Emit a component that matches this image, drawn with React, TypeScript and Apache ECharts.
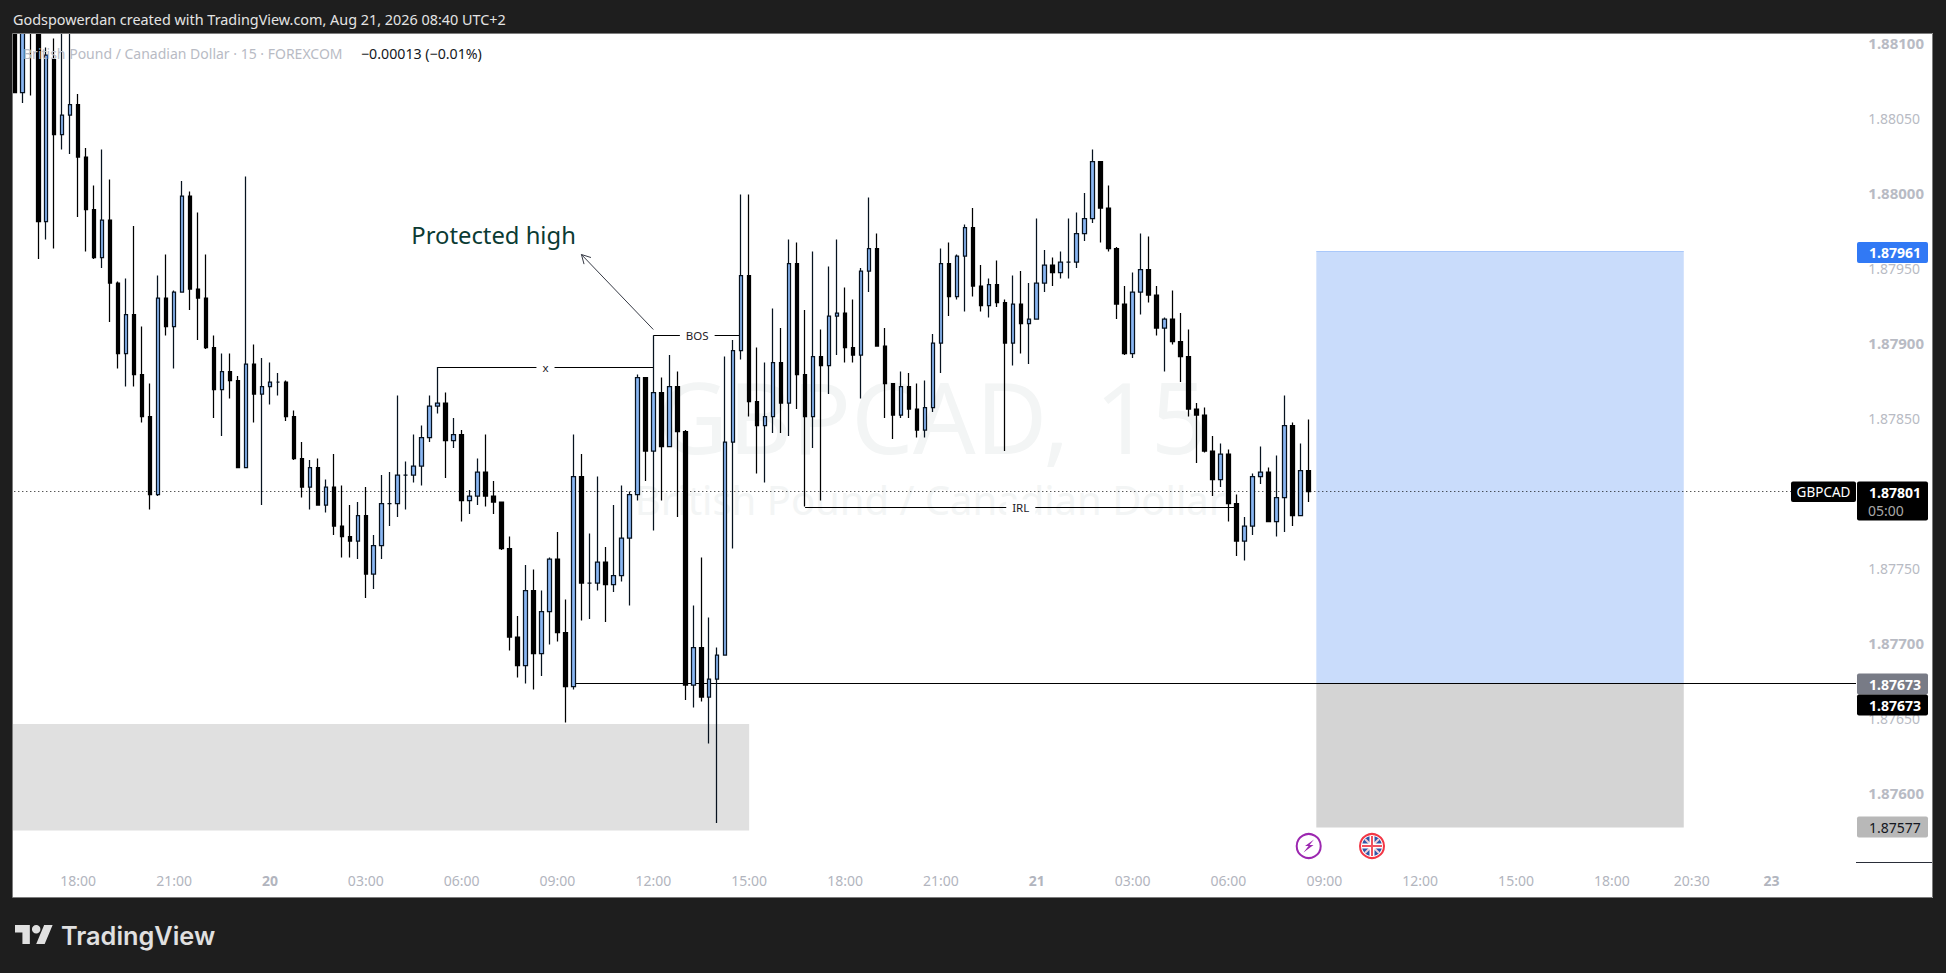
import React, { useEffect, useRef } from "react";
import * as echarts from "echarts";

// ---- Candles (15 minute bars, left to right) ----
const opens = [
1.88112,1.88067,1.88114,1.88109,1.87981,1.88089,1.88039,1.88052,1.88059,1.88024,
1.87989,1.87957,1.87982,1.87940,1.87893,1.87919,1.87879,1.87851,1.87799,1.87930,
1.87911,1.87934,1.87998,1.87936,1.87930,1.87897,1.87869,1.87881,1.87875,1.87817,
1.87886,1.87866,1.87871,1.87874,1.87874,1.87851,1.87823,1.87804,1.87817,1.87792,
1.87804,1.87778,1.87771,1.87768,1.87785,1.87746,1.87765,1.87793,1.87793,1.87812,
1.87812,1.87818,1.87837,1.87858,1.87860,1.87835,1.87839,1.87795,1.87798,1.87814,
1.87798,1.87794,1.87763,1.87704,1.87685,1.87735,1.87693,1.87721,1.87756,1.87707,
1.87671,1.87811,1.87740,1.87740,1.87754,1.87739,1.87745,1.87770,1.87799,1.87877,
1.87828,1.87867,1.87831,1.87871,1.87841,1.87672,1.87697,1.87664,1.87676,1.87692,
1.87834,1.87895,1.87945,1.87861,1.87845,1.87851,1.87887,1.87860,1.87953,1.87879,
1.87851,1.87891,1.87885,1.87918,1.87920,1.87897,1.87892,1.87948,1.87963,1.87898,
1.87873,1.87852,1.87871,1.87856,1.87842,1.87857,1.87900,1.87953,1.87931,1.87958,
1.87977,1.87938,1.87925,1.87939,1.87927,1.87900,1.87926,1.87913,1.87916,1.87940,
1.87952,1.87947,1.87954,1.87954,1.87973,1.87983,1.88021,1.87990,1.87963,1.87926,
1.87893,1.87934,1.87949,1.87932,1.87910,1.87916,1.87901,1.87891,1.87856,1.87852,
1.87828,1.87809,1.87826,1.87793,1.87768,1.87778,1.87811,1.87814,1.87781,1.87797,
1.87845,1.87785,1.87815];
const closes = [
1.88067,1.88110,1.88109,1.87981,1.88092,1.88039,1.88052,1.88059,1.88024,1.87989,
1.87957,1.87982,1.87940,1.87893,1.87919,1.87879,1.87851,1.87799,1.87930,1.87911,
1.87934,1.87998,1.87936,1.87930,1.87897,1.87869,1.87881,1.87875,1.87817,1.87886,
1.87866,1.87871,1.87874,1.87874,1.87851,1.87823,1.87804,1.87817,1.87792,1.87804,
1.87778,1.87771,1.87768,1.87785,1.87746,1.87765,1.87793,1.87793,1.87812,1.87812,
1.87818,1.87837,1.87858,1.87860,1.87835,1.87839,1.87795,1.87798,1.87814,1.87798,
1.87794,1.87763,1.87704,1.87685,1.87735,1.87693,1.87721,1.87756,1.87707,1.87671,
1.87811,1.87740,1.87740,1.87754,1.87739,1.87745,1.87770,1.87799,1.87877,1.87828,
1.87867,1.87831,1.87871,1.87841,1.87672,1.87697,1.87664,1.87676,1.87692,1.87834,
1.87895,1.87945,1.87861,1.87845,1.87851,1.87887,1.87860,1.87953,1.87879,1.87851,
1.87891,1.87885,1.87918,1.87920,1.87897,1.87892,1.87948,1.87963,1.87898,1.87873,
1.87852,1.87871,1.87856,1.87842,1.87857,1.87900,1.87953,1.87931,1.87958,1.87977,
1.87938,1.87925,1.87939,1.87927,1.87900,1.87926,1.87913,1.87916,1.87940,1.87952,
1.87947,1.87954,1.87954,1.87973,1.87983,1.88021,1.87990,1.87963,1.87926,1.87893,
1.87934,1.87949,1.87932,1.87910,1.87916,1.87901,1.87891,1.87856,1.87852,1.87828,
1.87809,1.87826,1.87793,1.87768,1.87778,1.87811,1.87814,1.87781,1.87797,1.87845,
1.87785,1.87815,1.87801];
const lows = [
1.88067,1.88060,1.88065,1.87956,1.87969,1.87963,1.88029,1.88026,1.87984,1.87961,
1.87956,1.87950,1.87914,1.87883,1.87871,1.87871,1.87847,1.87789,1.87798,1.87905,
1.87883,1.87934,1.87922,1.87902,1.87896,1.87850,1.87838,1.87863,1.87817,1.87817,
1.87847,1.87792,1.87859,1.87865,1.87848,1.87822,1.87797,1.87789,1.87792,1.87787,
1.87772,1.87757,1.87757,1.87756,1.87730,1.87736,1.87756,1.87778,1.87784,1.87789,
1.87807,1.87805,1.87834,1.87853,1.87810,1.87830,1.87781,1.87786,1.87792,1.87791,
1.87786,1.87762,1.87695,1.87677,1.87673,1.87669,1.87678,1.87699,1.87701,1.87647,
1.87669,1.87715,1.87716,1.87735,1.87714,1.87734,1.87741,1.87725,1.87795,1.87808,
1.87775,1.87795,1.87831,1.87784,1.87662,1.87657,1.87661,1.87633,1.87580,1.87692,
1.87763,1.87889,1.87851,1.87813,1.87807,1.87840,1.87840,1.87838,1.87856,1.87791,
1.87830,1.87795,1.87866,1.87892,1.87887,1.87887,1.87863,1.87934,1.87898,1.87850,
1.87836,1.87850,1.87850,1.87837,1.87837,1.87854,1.87880,1.87918,1.87929,1.87921,
1.87931,1.87921,1.87917,1.87924,1.87828,1.87885,1.87893,1.87886,1.87916,1.87934,
1.87938,1.87943,1.87943,1.87950,1.87968,1.87980,1.87967,1.87961,1.87916,1.87892,
1.87890,1.87919,1.87927,1.87905,1.87881,1.87899,1.87874,1.87851,1.87820,1.87827,
1.87798,1.87804,1.87781,1.87758,1.87755,1.87772,1.87806,1.87781,1.87771,1.87774,
1.87778,1.87785,1.87794];
const highs = [
1.88115,1.88114,1.88120,1.88114,1.88097,1.88103,1.88114,1.88115,1.88066,1.88030,
1.88005,1.88029,1.88009,1.87941,1.87943,1.87978,1.87911,1.87873,1.87945,1.87959,
1.87935,1.88008,1.88001,1.87987,1.87959,1.87905,1.87893,1.87893,1.87878,1.88011,
1.87899,1.87890,1.87887,1.87880,1.87875,1.87855,1.87834,1.87822,1.87823,1.87809,
1.87826,1.87805,1.87792,1.87794,1.87804,1.87772,1.87812,1.87814,1.87865,1.87821,
1.87839,1.87845,1.87865,1.87884,1.87867,1.87850,1.87842,1.87802,1.87823,1.87839,
1.87808,1.87794,1.87771,1.87718,1.87752,1.87749,1.87735,1.87757,1.87774,1.87729,
1.87839,1.87826,1.87773,1.87811,1.87764,1.87792,1.87805,1.87801,1.87879,1.87877,
1.87905,1.87877,1.87892,1.87881,1.87842,1.87725,1.87757,1.87717,1.87697,1.87891,
1.87902,1.87999,1.87999,1.87897,1.87887,1.87923,1.87910,1.87969,1.87967,1.87922,
1.87961,1.87909,1.87951,1.87969,1.87937,1.87929,1.87950,1.87997,1.87973,1.87910,
1.87873,1.87881,1.87880,1.87873,1.87875,1.87906,1.87963,1.87967,1.87959,1.87979,
1.87990,1.87952,1.87943,1.87955,1.87929,1.87945,1.87948,1.87940,1.87983,1.87962,
1.87957,1.87961,1.87983,1.87987,1.88000,1.88029,1.88021,1.88005,1.87964,1.87938,
1.87947,1.87973,1.87971,1.87938,1.87917,1.87935,1.87920,1.87909,1.87860,1.87857,
1.87838,1.87833,1.87829,1.87799,1.87784,1.87813,1.87831,1.87817,1.87825,1.87865,
1.87847,1.87833,1.87849];

// ---- Axes ----
const slotCount = 231;
const priceMin = 1.87554;
const priceMax = 1.88106;
const priceTicks = [1.876, 1.8765, 1.877, 1.8775, 1.878, 1.8785, 1.879, 1.8795, 1.88, 1.8805, 1.881];
const strongTicks = [1.876, 1.877, 1.879, 1.88, 1.881];
const timeTickSlots = [8, 20, 32, 44, 56, 68, 80, 92, 104, 116, 128, 140, 152, 164, 176, 188, 200, 210, 220];
const timeTickLabels = ["18:00", "21:00", "20", "03:00", "06:00", "09:00", "12:00", "15:00", "18:00", "21:00", "21", "03:00", "06:00", "09:00", "12:00", "15:00", "18:00", "20:30", "23"];
const dayLabels = ["20", "21", "23"];

// ---- Drawings: [slot, price, slot, price] ----
const targetZone = [163, 1.87961, 209, 1.87673];
const stopZone = [163, 1.87673, 209, 1.87577];
const demandZone = [-1, 1.87646, 92, 1.87575];
const xLine = [53, 1.87884, 80, 1.87884];
const bosLine = [80, 1.87905, 91, 1.87905];
const irlLine = [99, 1.87791, 153, 1.87791];
const entryLine = [70, 1.87673, 230, 1.87673];
const arrowLine = [80, 1.87909, 71, 1.87959];
const lastPrice = 1.87801;
const noteAnchor = [60, 1.87972];

const UI = "'Noto Sans', sans-serif";

echarts.graphic.registerShape(
  "tvLogo",
  echarts.graphic.extendPath("M14 22H7V11H0V4h14v18zM28 22h-8l7.5-18h8L28 22zM24 8a4 4 0 1 1-8 0 4 4 0 0 1 8 0z", {})
);

function txt(x: number, y: number, text: string, fill: string, font: string, align = "left", z = 12, extra: any = {}) {
  return {
    type: "text", x, y, z, silent: true,
    style: { text, fill, font, align, verticalAlign: "middle", textAlign: align, textVerticalAlign: "middle", ...extra },
  };
}
function box(x: number, y: number, w: number, h: number, fill: string, z = 11, r = 0) {
  return { type: "rect", z, silent: true, shape: { x, y, width: w, height: h, r }, style: { fill } };
}

function App() {
  const ref = useRef<HTMLDivElement>(null);
  useEffect(() => {
    document.body.style.margin = "0";
    const chart = echarts.init(ref.current!, null, { renderer: "svg" });

    const zoneRows = [targetZone, stopZone, demandZone];
    const zoneFill = ["#c9dcfb", "#d4d4d4", "#e0e0e0"];
    const zoneTopEdge = ["#a9c8fa", "", ""];

    const lineRows = [xLine, bosLine, irlLine, entryLine];
    const lineLabel = ["x", "BOS", "IRL", ""];

    const snap = (v: number) => Math.round(v) + 0.5;

    chart.setOption({
      animation: false,
      backgroundColor: "#ffffff",
      grid: { left: 10.3, right: 90.5, top: 34, bottom: 111, containLabel: false },
      xAxis: {
        type: "category",
        data: Array.from({ length: slotCount }, (_, i) => {
          const k = timeTickSlots.indexOf(i);
          return k >= 0 ? timeTickLabels[k] : "";
        }),
        boundaryGap: true,
        axisLine: { show: false },
        axisTick: { show: false },
        splitLine: { show: false },
        axisLabel: {
          interval: (i: number) => timeTickSlots.includes(i),
          margin: 11,
          hideOverlap: false,
          formatter: (v: string) => (dayLabels.includes(v) ? `{d|${v}}` : `{t|${v}}`),
          rich: {
            t: { color: "#b2b5be", fontFamily: UI, fontSize: 14 },
            d: { color: "#b2b5be", fontFamily: UI, fontSize: 14, fontWeight: "bold" },
          },
        },
      },
      yAxis: {
        type: "value",
        position: "right",
        min: priceMin,
        max: priceMax,
        axisLine: { show: false },
        axisTick: { show: false },
        splitLine: { show: false },
        axisLabel: {
          customValues: priceTicks,
          margin: 12.8,
          formatter: (v: number) => {
            const s = v.toFixed(5);
            return strongTicks.includes(Number(v.toFixed(4))) ? `{b|${s}}` : `{n|${s}}`;
          },
          rich: {
            b: { color: "#b8bbc4", fontFamily: UI, fontSize: 15, fontWeight: "bold" },
            n: { color: "#b8bbc4", fontFamily: UI, fontSize: 14 },
          },
        },
      },
      series: [
        {
          type: "custom",
          name: "zones",
          z: 1,
          data: zoneRows,
          encode: { x: [0, 2], y: [1, 3] },
          renderItem: (params: any, api: any) => {
            const i = params.dataIndex;
            const a = api.coord([api.value(0), api.value(1)]);
            const b = api.coord([api.value(2), api.value(3)]);
            const left = api.value(0) < 0 ? params.coordSys.x : a[0];
            const children: any[] = [
              {
                type: "rect",
                shape: { x: left, y: a[1], width: b[0] - left, height: b[1] - a[1] },
                style: { fill: zoneFill[i] },
              },
            ];
            if (zoneTopEdge[i]) {
              children.push({
                type: "line",
                shape: { x1: left, y1: a[1], x2: b[0], y2: a[1] },
                style: { stroke: zoneTopEdge[i], lineWidth: 1 },
              });
            }
            return { type: "group", children };
          },
        },
        {
          type: "custom",
          name: "lines",
          z: 1,
          data: lineRows,
          encode: { x: [0, 2], y: [1, 3] },
          renderItem: (params: any, api: any) => {
            const i = params.dataIndex;
            const a = api.coord([api.value(0), api.value(1)]);
            const b = api.coord([api.value(2), api.value(3)]);
            const y = snap(a[1]);
            const x2 = lineLabel[i] === "" ? 1856 : b[0];
            const children: any[] = [
              { type: "line", shape: { x1: a[0], y1: y, x2, y2: y }, style: { stroke: "#000000", lineWidth: 1 } },
            ];
            if (lineLabel[i]) {
              children.push({
                type: "text",
                style: {
                  x: (a[0] + b[0]) / 2,
                  y: y,
                  text: lineLabel[i],
                  align: "center",
                  verticalAlign: "middle",
                  fill: "#1f2229",
                  font: `11.5px ${UI}`,
                  backgroundColor: "#ffffff",
                  padding: [2, 6],
                },
              });
            }
            return { type: "group", children };
          },
        },
        {
          type: "custom",
          name: "arrow",
          z: 1,
          data: [arrowLine],
          encode: { x: [0, 2], y: [1, 3] },
          renderItem: (_params: any, api: any) => {
            const a = api.coord([api.value(0), api.value(1)]);
            const b = api.coord([api.value(2), api.value(3)]);
            const ang = Math.atan2(b[1] - a[1], b[0] - a[0]);
            const len = 10;
            const p1 = [b[0] - len * Math.cos(ang - 0.5), b[1] - len * Math.sin(ang - 0.5)];
            const p2 = [b[0] - len * Math.cos(ang + 0.5), b[1] - len * Math.sin(ang + 0.5)];
            const style = { stroke: "#363a45", lineWidth: 1, fill: "none" };
            return {
              type: "group",
              children: [
                { type: "line", shape: { x1: a[0], y1: a[1], x2: b[0], y2: b[1] }, style },
                { type: "polyline", shape: { points: [p1, b, p2] }, style },
              ],
            };
          },
        },
        {
          type: "custom",
          name: "lastPrice",
          z: 1,
          data: [[0, lastPrice]],
          encode: { x: 0, y: 1 },
          renderItem: (params: any, api: any) => {
            const c = api.coord([0, api.value(1)]);
            const y = snap(c[1] - 0.5);
            return {
              type: "line",
              shape: { x1: params.coordSys.x, y1: y, x2: 1791, y2: y },
              style: { stroke: "#111111", lineWidth: 1, lineDash: [1, 3] },
            };
          },
        },
        {
          type: "custom",
          name: "note",
          z: 3,
          data: [noteAnchor],
          encode: { x: 0, y: 1 },
          renderItem: (_params: any, api: any) => {
            const c = api.coord([api.value(0), api.value(1)]);
            return {
              type: "text",
              style: {
                x: c[0],
                y: c[1],
                text: "Protected high",
                align: "center",
                verticalAlign: "middle",
                fill: "#0b3b33",
                font: `23.8px ${UI}`,
              },
            };
          },
        },
        {
          type: "candlestick",
          name: "GBPCAD",
          z: 2,
          barWidth: 4,
          data: opens.map((o, i) => [o, closes[i], lows[i], highs[i]]),
          itemStyle: {
            color: "#8ab6f3",
            color0: "#000000",
            borderColor: "#07121f",
            borderColor0: "#000000",
            borderWidth: 1.25,
          },
        },
      ],
      graphic: {
        elements: [
          // Watermark
          txt(932, 416, "GBPCAD, 15", "#f3f5f5", `98px ${UI}`, "center", 0),
          txt(930, 499, "British Pound / Canadian Dollar", "#f3f5f5", `40px ${UI}`, "center", 0),
          // Pane frame
          box(0, 0, 1946, 33, "#1e1e1e"),
          box(0, 898, 1946, 75, "#1e1e1e"),
          box(0, 0, 13, 973, "#1e1e1e"),
          box(1933, 0, 13, 973, "#1e1e1e"),
          { type: "rect", z: 11, silent: true, shape: { x: 12.5, y: 33.5, width: 1920, height: 864 }, style: { fill: "none", stroke: "#7d7d7d", lineWidth: 1 } },
          // Header, legend
          txt(13, 19, "Godspowerdan created with TradingView.com, Aug 21, 2026 08:40 UTC+2", "#e4e4e4", `14.4px ${UI}`),
          txt(23, 53, "British Pound / Canadian Dollar · 15 · FOREXCOM", "#b8bbc4", `14px ${UI}`),
          txt(361, 53, "−0.00013 (−0.01%)", "#131722", `14.2px ${UI}`),
          // Price tags
          box(1857, 242, 71, 21, "#3179f5", 11, 2),
          txt(1869, 252.5, "1.87961", "#ffffff", `bold 14px ${UI}`),
          box(1791, 481.5, 65, 20.5, "#000000", 11, 2),
          txt(1823.5, 492, "GBPCAD", "#ffffff", `13.5px ${UI}`, "center"),
          box(1857, 481.5, 71, 39, "#000000", 11, 2),
          txt(1869, 492, "1.87801", "#ffffff", `bold 14px ${UI}`),
          txt(1868, 510, "05:00", "#a8a8a8", `14px ${UI}`),
          box(1857, 673.5, 71, 21, "#787b86", 11, 2),
          txt(1869, 684, "1.87673", "#ffffff", `bold 14px ${UI}`),
          box(1857, 694.5, 71, 21, "#000000", 11, 2),
          txt(1869, 705, "1.87673", "#ffffff", `bold 14px ${UI}`),
          box(1857, 816.5, 71, 21, "#b8b8b8", 11, 2),
          txt(1869, 827, "1.87577", "#131722", `14px ${UI}`),
          { type: "line", z: 11, silent: true, shape: { x1: 1856, y1: 862.5, x2: 1932, y2: 862.5 }, style: { stroke: "#2a2e39", lineWidth: 1 } },
          // Event: lightning
          { type: "circle", z: 11, silent: true, shape: { cx: 1308.7, cy: 846, r: 12 }, style: { fill: "#ffffff", stroke: "#9c27b0", lineWidth: 2 } },
          { type: "polygon", z: 12, silent: true, shape: { points: [[1314, 839.5], [1305, 846], [1308.5, 846], [1303.5, 852.5], [1313.5, 845], [1309.5, 845]] }, style: { fill: "#9c27b0" } },
          // Event: UK flag
          { type: "circle", z: 11, silent: true, shape: { cx: 1372, cy: 846, r: 12 }, style: { fill: "#ffffff", stroke: "#f23645", lineWidth: 2 } },
          { type: "circle", z: 12, silent: true, shape: { cx: 1372, cy: 846, r: 10 }, style: { fill: "#2f55a8" } },
          { type: "line", z: 12, silent: true, shape: { x1: 1365, y1: 839, x2: 1379, y2: 853 }, style: { stroke: "#f3d0d6", lineWidth: 2 } },
          { type: "line", z: 12, silent: true, shape: { x1: 1379, y1: 839, x2: 1365, y2: 853 }, style: { stroke: "#f3d0d6", lineWidth: 2 } },
          { type: "rect", z: 12, silent: true, shape: { x: 1362, y: 843.5, width: 20, height: 5 }, style: { fill: "#ffffff" } },
          { type: "rect", z: 12, silent: true, shape: { x: 1369.5, y: 836, width: 5, height: 20 }, style: { fill: "#ffffff" } },
          { type: "rect", z: 12, silent: true, shape: { x: 1362, y: 845, width: 20, height: 2 }, style: { fill: "#f0525f" } },
          { type: "rect", z: 12, silent: true, shape: { x: 1371, y: 836, width: 2, height: 20 }, style: { fill: "#f0525f" } },
          // Logo
          { type: "tvLogo", z: 12, silent: true, x: 15, y: 920.8, scaleX: 1.06, scaleY: 1.06, style: { fill: "#e0e0e0" } },
          txt(61, 935, "TradingView", "#e0e0e0", `600 25.3px Inter, ${UI}`),
        ],
      },
    });
    return () => chart.dispose();
  }, []);
  return <div ref={ref} style={{ position: "absolute", left: 0, top: 0, width: 1946, height: 973 }} />;
}

export default App;
